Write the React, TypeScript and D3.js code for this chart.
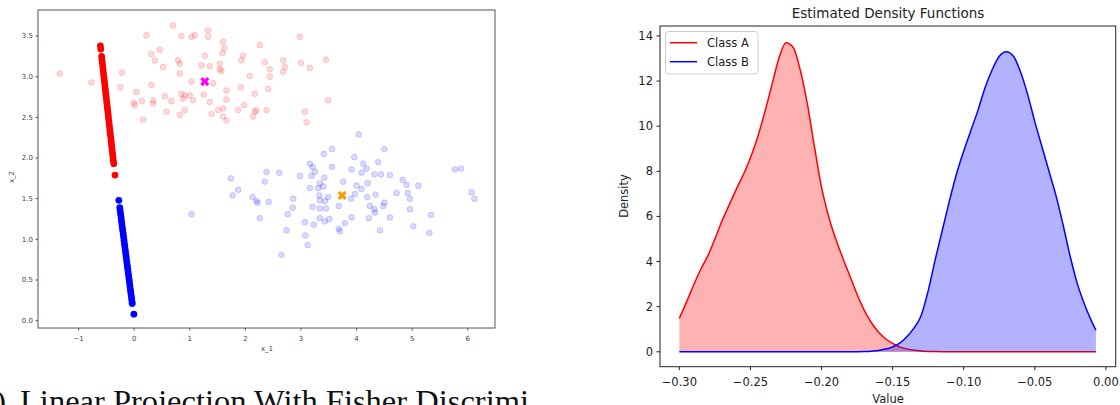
import * as d3 from "d3";

// ---- left panel: original 2-D samples ----
const cloudA: [number, number][] = [
  [-1.34, 3.04], [-0.77, 2.93], [-0.22, 3.05], [-0.25, 2.87], [0.04, 2.81], [-0.01, 2.68],
  [0.01, 2.65], [0.14, 2.7], [0.16, 2.47], [0.22, 3.51], [0.31, 3.28], [0.37, 3.2],
  [0.46, 3.33], [0.52, 3.12], [0.31, 2.9], [0.34, 2.71], [0.34, 2.67], [0.55, 2.76],
  [0.58, 2.57], [0.7, 3.63], [0.67, 2.7], [0.79, 3.2], [0.82, 3.16], [0.82, 3.04],
  [0.85, 3.5], [1.03, 3.49], [1.09, 3.51], [1.03, 2.94], [0.85, 2.79], [0.91, 2.77],
  [0.88, 2.73], [1.0, 2.77], [1.06, 2.71], [0.91, 2.59], [0.82, 2.53], [1.33, 3.57],
  [1.33, 3.49], [1.6, 3.43], [1.62, 3.35], [1.59, 3.29], [1.27, 3.26], [1.21, 3.14],
  [1.36, 3.13], [1.54, 3.16], [1.54, 3.09], [1.57, 3.07], [1.96, 3.26], [1.93, 3.2],
  [2.26, 3.39], [2.35, 3.18], [2.08, 3.01], [2.44, 3.09], [2.44, 3.0], [2.68, 3.2],
  [2.71, 3.12], [2.68, 3.06], [2.98, 3.49], [3.0, 3.17], [3.16, 3.11], [3.45, 3.21],
  [3.49, 2.71], [1.42, 2.92], [1.66, 2.83], [1.92, 2.87], [2.17, 2.79], [2.41, 2.85],
  [1.66, 2.72], [1.36, 2.69], [1.25, 2.78], [1.51, 2.59], [1.6, 2.61], [1.39, 2.54],
  [1.6, 2.51], [1.66, 2.46], [1.87, 2.59], [1.98, 2.65], [2.17, 2.57], [2.2, 2.59],
  [2.14, 2.51], [2.38, 2.59], [3.07, 2.57], [3.1, 2.44],
];

const cloudB: [number, number][] = [
  [1.03, 1.31], [1.74, 1.75], [1.87, 1.61], [1.77, 1.54], [2.13, 1.52], [2.2, 1.47],
  [2.22, 1.45], [2.38, 1.83], [2.35, 1.71], [2.61, 1.82], [2.42, 1.46], [2.26, 1.26],
  [2.65, 0.81], [2.74, 1.11], [2.76, 1.31], [2.86, 1.5], [2.85, 1.39], [2.98, 1.78],
  [3.16, 1.93], [3.21, 1.89], [3.25, 1.83], [3.19, 1.78], [3.41, 2.05], [3.42, 1.76],
  [3.16, 1.63], [3.31, 1.63], [3.34, 1.69], [3.4, 1.65], [3.33, 1.54], [3.43, 1.47],
  [3.49, 1.52], [3.34, 1.48], [3.21, 1.4], [3.34, 1.38], [3.45, 1.38], [3.51, 1.25],
  [3.07, 1.21], [3.23, 1.18], [3.34, 1.26], [3.43, 1.22], [3.08, 1.05], [3.12, 0.93],
  [4.04, 2.29], [3.56, 2.11], [4.5, 2.11], [3.96, 2.01], [3.56, 1.89], [3.91, 1.86],
  [4.12, 1.93], [4.18, 1.87], [4.09, 1.82], [4.39, 1.95], [4.32, 1.8], [4.44, 1.8],
  [4.6, 1.79], [3.76, 1.71], [4.0, 1.66], [4.09, 1.62], [4.2, 1.69], [3.97, 1.56],
  [3.9, 1.5], [4.19, 1.52], [4.34, 1.55], [3.68, 1.41], [4.24, 1.41], [4.32, 1.37],
  [4.33, 1.33], [4.5, 1.45], [4.48, 1.41], [4.72, 1.57], [4.83, 1.73], [4.9, 1.67],
  [4.92, 1.57], [4.96, 1.5], [5.11, 1.66], [4.96, 1.37], [4.6, 1.27], [4.22, 1.26],
  [3.91, 1.27], [3.79, 1.2], [3.68, 1.13], [3.7, 1.1], [4.42, 1.11], [5.02, 1.16],
  [5.34, 1.3], [5.31, 1.08], [5.77, 1.86], [5.88, 1.87], [6.07, 1.58], [6.12, 1.5],
];

// projected samples on the Fisher direction
const projA: [number, number][] = [
  [-0.608, 3.38], [-0.601, 3.34], [-0.586, 3.25], [-0.58, 3.21], [-0.573, 3.17], [-0.566, 3.13],
  [-0.56, 3.09], [-0.553, 3.05], [-0.547, 3.01], [-0.54, 2.97], [-0.533, 2.93], [-0.527, 2.89],
  [-0.52, 2.85], [-0.514, 2.81], [-0.507, 2.77], [-0.5, 2.73], [-0.494, 2.69], [-0.487, 2.65],
  [-0.481, 2.61], [-0.474, 2.57], [-0.467, 2.53], [-0.461, 2.49], [-0.454, 2.45], [-0.448, 2.41],
  [-0.441, 2.37], [-0.434, 2.33], [-0.428, 2.29], [-0.421, 2.25], [-0.415, 2.21], [-0.408, 2.17],
  [-0.401, 2.13], [-0.395, 2.09], [-0.388, 2.05], [-0.382, 2.01], [-0.375, 1.97], [-0.368, 1.93],
  [-0.345, 1.79],
];

const projB: [number, number][] = [
  [-0.276, 1.48], [-0.259, 1.39], [-0.252, 1.35], [-0.244, 1.31], [-0.236, 1.27], [-0.229, 1.23],
  [-0.221, 1.19], [-0.214, 1.15], [-0.206, 1.11], [-0.198, 1.07], [-0.191, 1.03], [-0.183, 0.99],
  [-0.176, 0.95], [-0.168, 0.91], [-0.16, 0.87], [-0.153, 0.83], [-0.145, 0.79], [-0.138, 0.75],
  [-0.13, 0.71], [-0.122, 0.67], [-0.115, 0.63], [-0.107, 0.59], [-0.1, 0.55], [-0.092, 0.51],
  [-0.084, 0.47], [-0.077, 0.43], [-0.069, 0.39], [-0.062, 0.35], [-0.054, 0.31], [-0.046, 0.27],
  [-0.039, 0.23], [-0.035, 0.21], [-0.005, 0.08],
];

const meanA: [number, number] = [1.27, 2.94];
const meanB: [number, number] = [3.74, 1.54];

const leftXTicks = [-1, 0, 1, 2, 3, 4, 5, 6];
const leftYTicks = [0, 0.5, 1, 1.5, 2, 2.5, 3, 3.5];

// ---- right panel: estimated densities ----
const densAX = [
  -0.3, -0.295, -0.29, -0.285, -0.28, -0.275, -0.27, -0.265, -0.26, -0.255, -0.25, -0.245,
  -0.24, -0.235, -0.23, -0.225, -0.22, -0.215, -0.21, -0.205, -0.2, -0.195, -0.19, -0.185,
  -0.18, -0.175, -0.17, -0.165, -0.16, -0.155, -0.15, -0.145, -0.14, -0.135, -0.13, -0.12,
  -0.11, -0.1, -0.007,
];
const densAY = [
  1.48, 2.2, 2.95, 3.65, 4.25, 5.0, 5.8, 6.5, 7.2, 7.85, 8.6, 9.5,
  10.6, 11.8, 13.0, 13.7, 13.5, 12.5, 11.0, 9.1, 7.3, 6.0, 5.0, 4.15,
  3.35, 2.55, 1.85, 1.3, 0.88, 0.58, 0.37, 0.22, 0.13, 0.07, 0.04, 0.015,
  0.005, 0.0, 0.0,
];
const densBX = [
  -0.3, -0.2, -0.18, -0.17, -0.165, -0.16, -0.155, -0.15, -0.145, -0.14, -0.135, -0.13,
  -0.125, -0.12, -0.115, -0.11, -0.105, -0.1, -0.095, -0.09, -0.085, -0.08, -0.075, -0.07,
  -0.065, -0.06, -0.055, -0.05, -0.045, -0.04, -0.035, -0.03, -0.025, -0.02, -0.015, -0.01,
  -0.007,
];
const densBY = [
  0.0, 0.0, 0.005, 0.015, 0.03, 0.06, 0.12, 0.22, 0.38, 0.67, 1.05, 1.6,
  2.7, 4.1, 5.4, 6.7, 7.9, 8.9, 9.8, 10.7, 11.7, 12.5, 13.1, 13.3,
  13.1, 12.4, 11.4, 10.2, 9.1, 8.0, 6.9, 5.6, 4.2, 3.0, 2.1, 1.35,
  0.96,
];

const rightXTicks = [-0.3, -0.25, -0.2, -0.15, -0.1, -0.05, 0.0];
const rightYTicks = [0, 2, 4, 6, 8, 10, 12, 14];
const classes = ["Class A", "Class B"];
const classColors = ["#ff0000", "#0000ff"];

const minus = (s: string) => s.replace("-", "\u2212");

export default function App() {
  // left scatter
  const lx = d3.scaleLinear().domain([-1.73, 6.49]).range([38, 495]);
  const ly = d3.scaleLinear().domain([-0.09, 3.82]).range([328, 10]);
  // right density
  const rx = d3.scaleLinear().domain([-0.3136, 0.0069]).range([660, 1115.7]);
  const ry = d3.scaleLinear().domain([-0.66, 14.44]).range([366.7, 26]);

  const seriesA = densAX.map((x, i) => [x, densAY[i]] as [number, number]);
  const seriesB = densBX.map((x, i) => [x, densBY[i]] as [number, number]);

  const line = d3
    .line<[number, number]>()
    .x((d) => rx(d[0]))
    .y((d) => ry(d[1]))
    .curve(d3.curveMonotoneX);
  const area = d3
    .area<[number, number]>()
    .x((d) => rx(d[0]))
    .y0(ry(0))
    .y1((d) => ry(d[1]))
    .curve(d3.curveMonotoneX);

  const xMark = d3.symbol(d3.symbolCross, 52)() || "";
  const sans = "DejaVu Sans, sans-serif";

  return (
    <div style={{ position: "absolute", left: 0, top: 0 }}>
      <svg width={1120} height={405} style={{ display: "block", background: "#fff" }}>
        {/* ===== left: scatter + projection ===== */}
        <g>
          {cloudA.map((d, i) => (
            <circle key={"a" + i} cx={lx(d[0])} cy={ly(d[1])} r={2.9}
              fill="#ff0000" fillOpacity={0.15} stroke="#ff0000" strokeOpacity={0.15} strokeWidth={1} />
          ))}
          {cloudB.map((d, i) => (
            <circle key={"b" + i} cx={lx(d[0])} cy={ly(d[1])} r={2.9}
              fill="#0000ff" fillOpacity={0.15} stroke="#0000ff" strokeOpacity={0.15} strokeWidth={1} />
          ))}
          {projA.map((d, i) => (
            <circle key={"pa" + i} cx={lx(d[0])} cy={ly(d[1])} r={3.4} fill="#ff0000" />
          ))}
          {projB.map((d, i) => (
            <circle key={"pb" + i} cx={lx(d[0])} cy={ly(d[1])} r={3.4} fill="#0000ff" />
          ))}
          <path d={xMark} fill="#ff00ff" transform={`translate(${lx(meanA[0])},${ly(meanA[1])}) rotate(45)`} />
          <path d={xMark} fill="#f5a000" transform={`translate(${lx(meanB[0])},${ly(meanB[1])}) rotate(45)`} />

          <rect x={38} y={10} width={457} height={318} fill="none" stroke="#555" strokeWidth={1} />
          {leftXTicks.map((t) => (
            <g key={"lx" + t} transform={`translate(${lx(t)},328)`}>
              <line y2={2.5} stroke="#555" />
              <text y={13} textAnchor="middle" fontSize={7} fontFamily={sans} fill="#444">
                {minus(String(t))}
              </text>
            </g>
          ))}
          {leftYTicks.map((t) => (
            <g key={"ly" + t} transform={`translate(38,${ly(t)})`}>
              <line x2={-2.5} stroke="#555" />
              <text x={-5} dy="0.35em" textAnchor="end" fontSize={7} fontFamily={sans} fill="#444">
                {t.toFixed(1)}
              </text>
            </g>
          ))}
          <text x={267} y={351} textAnchor="middle" fontSize={7} fontFamily={sans} fill="#444">x_1</text>
          <text transform="translate(14,177) rotate(-90)" textAnchor="middle" fontSize={7} fontFamily={sans} fill="#444">
            x_2
          </text>
        </g>

        {/* caption (cropped in the source) */}
        <g fontFamily="Liberation Serif, serif" fontSize={32.5} fill="#111">
          <text x={6} y={412} textAnchor="end">(a)</text>
          <text x={20} y={412}>Linear Projection With Fisher Discrimi</text>
        </g>

        {/* ===== right: densities ===== */}
        <g>
          <path d={area(seriesA) || ""} fill="#ff0000" fillOpacity={0.3} />
          <path d={line(seriesA) || ""} fill="none" stroke="#ff0000" strokeWidth={1.5} />
          <path d={area(seriesB) || ""} fill="#0000ff" fillOpacity={0.3} />
          <path d={line(seriesB) || ""} fill="none" stroke="#0000ff" strokeWidth={1.5} />

          <rect x={660} y={26} width={455.7} height={340.7} fill="none" stroke="#222" strokeWidth={1} />
          {rightXTicks.map((t) => (
            <g key={"rx" + t} transform={`translate(${rx(t)},366.7)`}>
              <line y2={3.5} stroke="#222" />
              <text y={19} textAnchor="middle" fontSize={11.5} fontFamily={sans} fill="#222">
                {minus(t.toFixed(2))}
              </text>
            </g>
          ))}
          {rightYTicks.map((t) => (
            <g key={"ry" + t} transform={`translate(660,${ry(t)})`}>
              <line x2={-3.5} stroke="#222" />
              <text x={-7} dy="0.35em" textAnchor="end" fontSize={11.5} fontFamily={sans} fill="#222">
                {t}
              </text>
            </g>
          ))}
          <text x={888} y={18} textAnchor="middle" fontSize={13.5} fontFamily={sans} fill="#222">
            Estimated Density Functions
          </text>
          <text x={888} y={403} textAnchor="middle" fontSize={11.5} fontFamily={sans} fill="#222">Value</text>
          <text transform="translate(628,196) rotate(-90)" textAnchor="middle" fontSize={11.5} fontFamily={sans} fill="#222">
            Density
          </text>

          {/* legend */}
          <rect x={665.5} y={31.5} width={92.5} height={42.5} rx={3} fill="#fff" fillOpacity={0.8} stroke="#ccc" />
          {classes.map((c, i) => (
            <g key={c} transform={`translate(670,${42.7 + i * 19})`}>
              <line x1={0} x2={27} stroke={classColors[i]} strokeWidth={1.5} />
              <text x={37} dy="0.35em" fontSize={11.5} fontFamily={sans} fill="#222">{c}</text>
            </g>
          ))}
        </g>
      </svg>
    </div>
  );
}
